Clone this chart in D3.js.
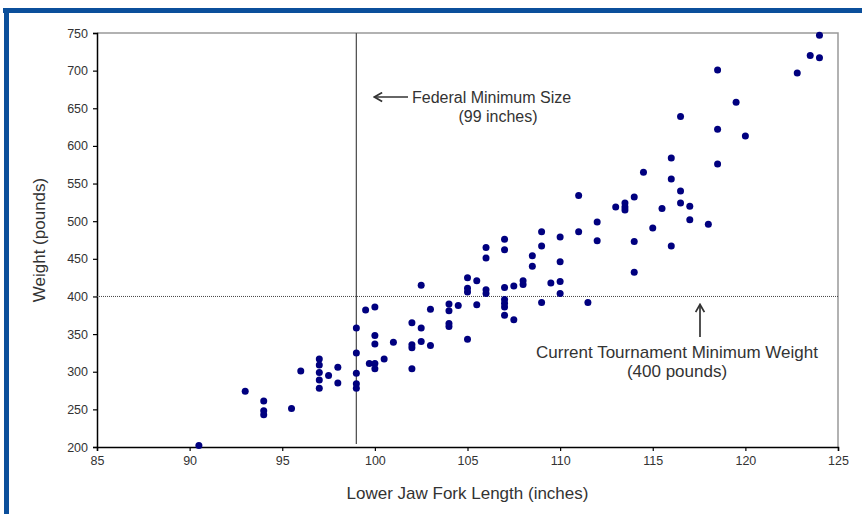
<!DOCTYPE html>
<html>
<head>
<meta charset="utf-8">
<script src="https://cdn.jsdelivr.net/npm/d3@7"></script>
<style>
  html, body { margin: 0; padding: 0; background: #fff; }
  svg { display: block; }
  text { font-family: "Liberation Sans", Arial, sans-serif; fill: #333; }
</style>
</head>
<body>
<svg id="chart" width="862" height="514"></svg>
<script>
// Lower jaw fork length (inches) of each fish
const lengths = [
  90.5, 93, 94, 94, 94, 95.5, 96, 97, 97, 97, 97, 97, 97.5, 98, 98,
  99, 99, 99, 99, 99, 99.5, 100, 100, 100, 99.7, 100, 100, 100.5, 101,
  102, 102, 102, 102, 102.5, 102.5, 102.5, 103, 103, 104, 104, 104, 104,
  104.5, 105, 105, 105, 105, 105.5, 105.5, 106, 106, 107, 107, 107, 107,
  107, 107.5, 107.5, 108, 108, 106, 106, 107, 107, 108.5, 108.5, 109,
  109, 109, 109.5, 110, 110, 110, 110, 111, 111.5, 112, 112, 111, 113,
  113.5, 113.5, 113.5, 114, 114, 114, 114.5, 115, 115.5, 116, 116, 116,
  116.5, 116.5, 117, 117, 118, 118.5, 118.5, 119.5, 116.5, 118.5, 120,
  122.8, 123.5, 124, 124
];
// Weight (pounds) of each fish, same order
const weights = [
  202, 274, 261, 248, 243, 251, 301, 317, 309, 299, 289, 278, 295, 306, 285,
  358, 325, 298, 284, 278, 382, 386, 348, 337, 311, 311, 304, 317, 339,
  365, 336, 332, 304, 415, 358, 340, 383, 335, 390, 381, 364, 360,
  388, 425, 411, 406, 343, 389, 421, 409, 404, 412, 396, 391, 386,
  375, 414, 369, 421, 416, 465, 451, 476, 462, 454, 440, 486,
  467, 392, 418, 479, 446, 420, 404, 486, 392, 499, 474, 534, 519,
  524, 519, 515, 532, 473, 432, 565, 491, 517, 584, 556, 467,
  540, 524, 520, 502, 496, 576, 701, 658, 639, 622, 613,
  697, 720, 717, 747
];

const xTicks = [85, 90, 95, 100, 105, 110, 115, 120, 125];
const yTicks = [200, 250, 300, 350, 400, 450, 500, 550, 600, 650, 700, 750];

const federalMinLength = 99;      // inches
const tournamentMinWeight = 400;  // pounds

const svg = d3.select("#chart");
const plotLeft = 97, plotRight = 838, plotTop = 33, plotBottom = 447;

const x = d3.scaleLinear().domain([85, 125]).range([plotLeft, plotRight]);
const y = d3.scaleLinear().domain([200, 750]).range([plotBottom, plotTop]);

// Page frame
svg.append("rect").attr("x", 3).attr("y", 8).attr("width", 859).attr("height", 5).attr("fill", "#0b4f9b");
svg.append("rect").attr("x", 4).attr("y", 8).attr("width", 5).attr("height", 506).attr("fill", "#0b4f9b");

// Plot border on top and right
svg.append("path")
  .attr("d", `M${plotLeft},${plotTop}H${plotRight}V${plotBottom}`)
  .attr("fill", "none").attr("stroke", "#999").attr("stroke-width", 1.5);

// Axes
const xAxis = d3.axisBottom(x).tickValues(xTicks).tickSize(4).tickPadding(5).tickFormat(d3.format("d"));
const yAxis = d3.axisLeft(y).tickValues(yTicks).tickSize(4).tickPadding(5).tickFormat(d3.format("d"));

const gx = svg.append("g").attr("transform", `translate(0,${plotBottom})`).call(xAxis);
const gy = svg.append("g").attr("transform", `translate(${plotLeft},0)`).call(yAxis);
[gx, gy].forEach(g => {
  g.select(".domain").attr("stroke", "#000").attr("stroke-width", 1.5);
  g.selectAll(".tick line").attr("stroke", "#000").attr("stroke-width", 1.2);
  g.selectAll(".tick text")
    .attr("fill", "#333")
    .style("font-family", "'Liberation Sans', Arial, sans-serif")
    .style("font-size", "12.5px");
});

// Reference lines
svg.append("line")
  .attr("x1", x(federalMinLength)).attr("x2", x(federalMinLength))
  .attr("y1", plotTop).attr("y2", plotBottom - 3)
  .attr("stroke", "#555").attr("stroke-width", 1.3);

svg.append("line")
  .attr("x1", plotLeft).attr("x2", plotRight)
  .attr("y1", y(tournamentMinWeight)).attr("y2", y(tournamentMinWeight))
  .attr("stroke", "#444").attr("stroke-width", 1).attr("stroke-dasharray", "1,1");

// Points
svg.append("g").selectAll("circle")
  .data(lengths.map((l, i) => [l, weights[i]]))
  .join("circle")
  .attr("cx", d => x(d[0]))
  .attr("cy", d => y(d[1]))
  .attr("r", 3.5)
  .attr("fill", "#00007f");

// Arrow heads
const defs = svg.append("defs");
defs.append("marker")
  .attr("id", "arrow").attr("viewBox", "0 0 10 10")
  .attr("refX", 8.5).attr("refY", 5)
  .attr("markerWidth", 11).attr("markerHeight", 11)
  .attr("markerUnits", "userSpaceOnUse")
  .attr("orient", "auto")
  .append("path").attr("d", "M2,1 L9,5 L2,9").attr("fill", "none")
  .attr("stroke", "#333").attr("stroke-width", 1.6);

// Federal minimum annotation
svg.append("line")
  .attr("x1", 408).attr("y1", 97).attr("x2", 375).attr("y2", 97)
  .attr("stroke", "#333").attr("stroke-width", 1.7)
  .attr("marker-end", "url(#arrow)");
svg.append("text").attr("x", 412).attr("y", 103)
  .style("font-size", "16px").text("Federal Minimum Size");
svg.append("text").attr("x", 498).attr("y", 122).attr("text-anchor", "middle")
  .style("font-size", "16px").text("(99 inches)");

// Tournament minimum annotation
svg.append("line")
  .attr("x1", 700).attr("y1", 337).attr("x2", 700).attr("y2", 305)
  .attr("stroke", "#333").attr("stroke-width", 1.7)
  .attr("marker-end", "url(#arrow)");
svg.append("text").attr("x", 677).attr("y", 358).attr("text-anchor", "middle")
  .style("font-size", "17px").text("Current Tournament Minimum Weight");
svg.append("text").attr("x", 677).attr("y", 377).attr("text-anchor", "middle")
  .style("font-size", "17px").text("(400 pounds)");

// Axis titles
svg.append("text").attr("x", (plotLeft + plotRight) / 2).attr("y", 499).attr("text-anchor", "middle")
  .style("font-size", "17px").text("Lower Jaw Fork Length (inches)");
svg.append("text")
  .attr("transform", `translate(45,${(plotTop + plotBottom) / 2}) rotate(-90)`)
  .attr("text-anchor", "middle")
  .style("font-size", "17px").text("Weight (pounds)");
</script>
</body>
</html>
